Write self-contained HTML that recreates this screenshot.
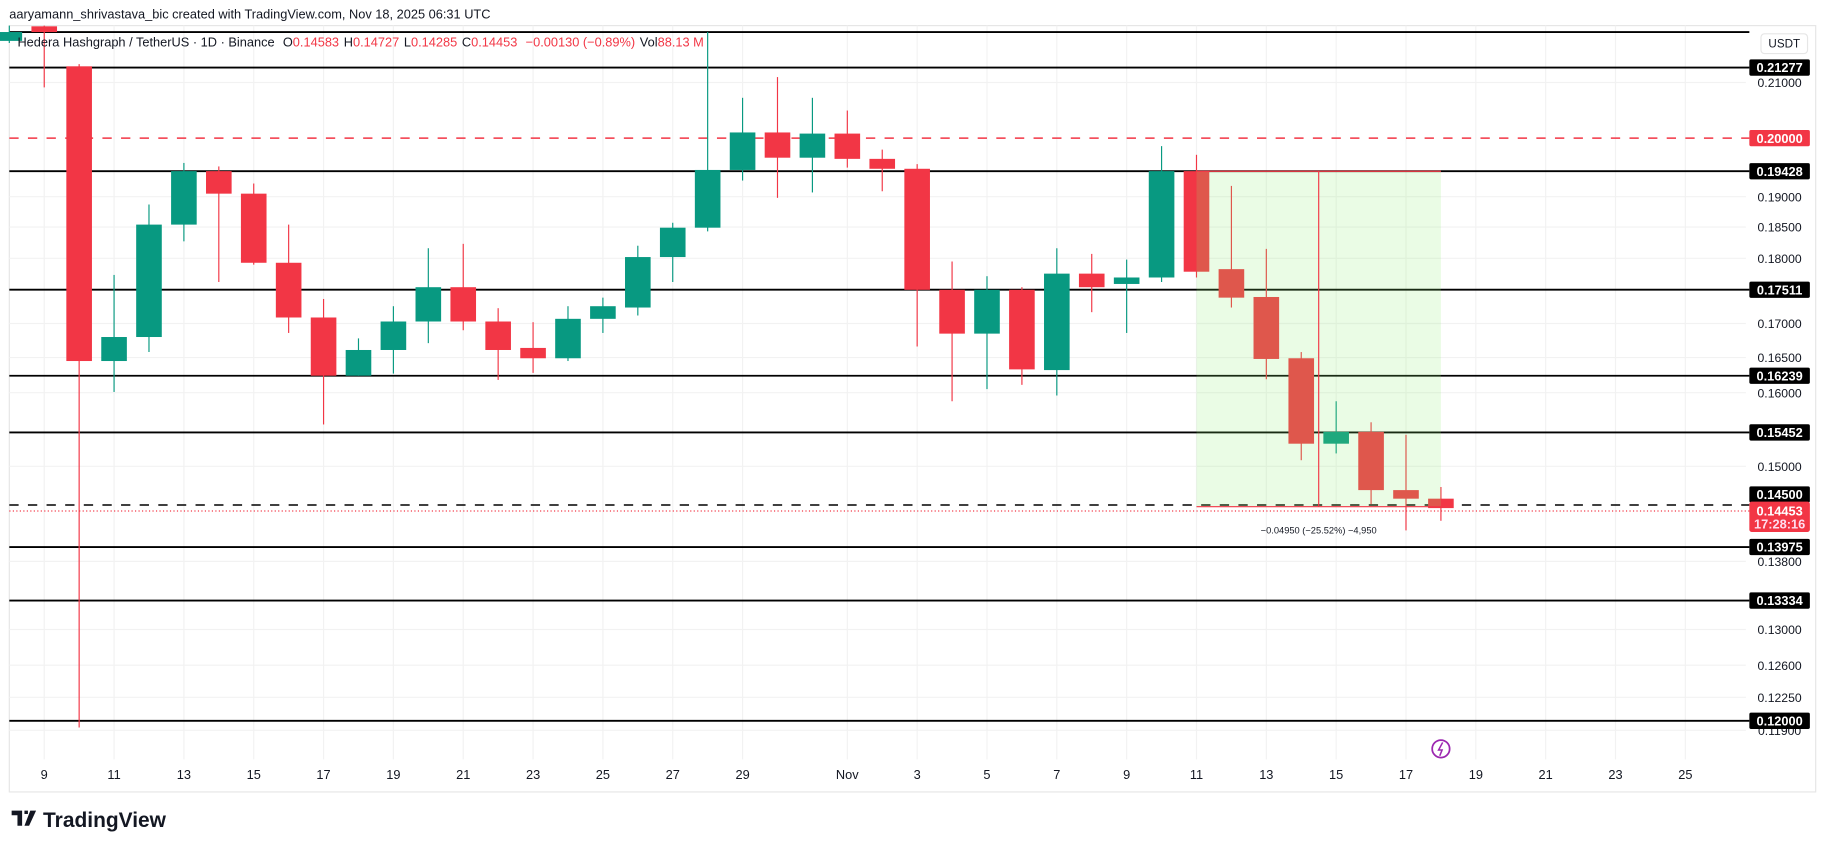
<!DOCTYPE html>
<html><head><meta charset="utf-8"><style>
html,body{margin:0;padding:0;background:#fff;width:1825px;height:849px;overflow:hidden}
svg{display:block;font-family:"Liberation Sans",sans-serif}
</style></head><body>
<svg id="c" width="1825" height="849" viewBox="0 0 1568 729" preserveAspectRatio="none" xmlns="http://www.w3.org/2000/svg">
<text x="8" y="16" font-size="11" fill="#131722">aaryamann_shrivastava_bic created with TradingView.com, Nov 18, 2025 06:31 UTC</text>
<rect x="8" y="22" width="1552" height="658" fill="#fff" stroke="#e6e6e6"/>
<g id="grid"></g>
<g id="hlines"></g>
<g id="candles"></g>
<g id="pos"></g>
<g id="axis"></g>
<g id="xaxis"></g>
<text x="15" y="40" font-size="11" fill="#131722">Hedera Hashgraph / TetherUS · 1D · Binance <tspan dx="4">O</tspan><tspan fill="#f23645">0.14583</tspan><tspan dx="4">H</tspan><tspan fill="#f23645">0.14727</tspan><tspan dx="4">L</tspan><tspan fill="#f23645">0.14285</tspan><tspan dx="4">C</tspan><tspan fill="#f23645">0.14453 </tspan><tspan dx="4" fill="#f23645">−0.00130 (−0.89%)</tspan><tspan dx="4">Vol</tspan><tspan fill="#f23645">88.13 M</tspan></text>
<g><circle cx="1238" cy="643" r="7.5" fill="none" stroke="#9c27b0" stroke-width="1.5"/><path d="M1239.5 637.5 L1236 644 L1239 644 L1237 649" fill="none" stroke="#9c27b0" stroke-width="1.3"/></g>
<g><path d="M10 696 h9 v13 h-4 v-9 h-5z M21 696 h3 v3 h-3z M26 696 h5 l-6 13 h-4z" fill="#131722"/><text x="37" y="710" font-size="18" font-weight="bold" fill="#131722">TradingView</text></g>
</svg>
<script>
const dayIdx=[-1,0,1,2,3,4,5,6,7,8,9,10,11,12,13,14,15,16,17,18,19,20,21,22,23,24,25,26,27,28,29,30,31,32,33,34,35,36,37,38,39,40];
const opens=[.2178,.2206,.2130,.1645,.1680,.1854,.1943,.1905,.1793,.1709,.1624,.1661,.1703,.1755,.1703,.1664,.1649,.1707,.1724,.1802,.1849,.1945,.2010,.1966,.2008,.1964,.1947,.1751,.1685,.1751,.1632,.1776,.1760,.1770,.1943,.1783,.1740,.1649,.1530,.1546,.1469,.1458];
const highs=[.2210,.2210,.2134,.1774,.1887,.1957,.1951,.1922,.1854,.1737,.1678,.1726,.1816,.1823,.1723,.1702,.1726,.1739,.1820,.1857,.2195,.2072,.2110,.2072,.2049,.1980,.1955,.1795,.1772,.1755,.1816,.1807,.1798,.1986,.1971,.1918,.1815,.1658,.1588,.1559,.1542,.1473];
const lows=[.2174,.2091,.1193,.1601,.1658,.1827,.1763,.1790,.1686,.1556,.1624,.1627,.1671,.1690,.1618,.1628,.1645,.1686,.1712,.1763,.1843,.1927,.1898,.1907,.1949,.1909,.1666,.1588,.1605,.1611,.1596,.1717,.1686,.1763,.1770,.1724,.1619,.1508,.1517,.1451,.1418,.1430];
const closes=[.2195,.2195,.1645,.1680,.1854,.1943,.1905,.1793,.1709,.1624,.1661,.1703,.1755,.1703,.1661,.1649,.1707,.1726,.1802,.1849,.1945,.2010,.1966,.2008,.1964,.1947,.1751,.1685,.1751,.1633,.1776,.1755,.1770,.1943,.1779,.1739,.1648,.1530,.1546,.1469,.1458,.1446];
const levels=[0.2195,0.21277,0.19428,0.17511,0.16239,0.15452,0.13975,0.13334,0.12000];
const levelLabels=["","0.21277","0.19428","0.17511","0.16239","0.15452","0.13975","0.13334","0.12000"];
const tickPrices=[0.21,0.19,0.185,0.18,0.17,0.165,0.16,0.15,0.138,0.13,0.126,0.1225,0.119];
const tickLabels=["0.21000","0.19000","0.18500","0.18000","0.17000","0.16500","0.16000","0.15000","0.13800","0.13000","0.12600","0.12250","0.11900"];
const xTickDays=[0,2,4,6,8,10,12,14,16,18,20,23,25,27,29,31,33,35,37,39,41,43,45,47];
const xTickLabels=["9","11","13","15","17","19","21","23","25","27","29","Nov","3","5","7","9","11","13","15","17","19","21","23","25"];
const targetPrice=0.2, lastPrice=0.14453, entryPrice=0.145;
const posStartDay=33, posEndDay=40, posTop=0.19428, posBottom=0.14478;

const NS="http://www.w3.org/2000/svg";
const Y=p=>58+(Math.log(0.21277)-Math.log(p))*979.4;
const X=d=>38+d*30;
function mk(parent,tag,attrs){const e=document.createElementNS(NS,tag);for(const k in attrs)e.setAttribute(k,attrs[k]);document.getElementById(parent).appendChild(e);return e;}
const GREEN="#089981",RED="#f23645";
tickPrices.forEach((p,i)=>{const l=mk('grid','line',{x1:8,x2:1500,y1:Y(p),y2:Y(p),stroke:'#f2f2f2'});

});
xTickDays.forEach((d,i)=>{const l=mk('grid','line',{x1:X(d),x2:X(d),y1:22,y2:652,stroke:'#f2f2f2'});


const t=mk('xaxis','text',{x:X(d),y:669,'font-size':11,'text-anchor':'middle',fill:'#131722'});t.textContent=xTickLabels[i];

});
dayIdx.forEach((d,i)=>{const up=closes[i]>=opens[i];const col=up?GREEN:RED;const x=X(d);
const w=mk('candles','line',{x1:x,x2:x,y1:Math.max(22,Y(highs[i])),y2:Y(lows[i]),stroke:col,'stroke-width':1});


const t=Math.min(Y(opens[i]),Y(closes[i])),b=Math.max(Y(opens[i]),Y(closes[i]));
const r=mk('candles','rect',{x:x-11,y:Math.max(20,t),width:22,height:Math.max(1,b-Math.max(20,t)),fill:col});

});
const px1=X(posStartDay),px2=X(posEndDay);
const pr=mk('pos','rect',{x:px1,y:Y(posTop),width:px2-px1,height:Y(posBottom)-Y(posTop),fill:'rgba(140,240,110,0.18)'});


const pl=mk('pos','line',{x1:px1,x2:px2,y1:Y(posTop),y2:Y(posTop),stroke:'#f23645','stroke-width':1});


const pb=mk('pos','line',{x1:px1,x2:px2,y1:Y(posBottom),y2:Y(posBottom),stroke:'#f23645','stroke-width':1});


const pv=mk('pos','line',{x1:1133,x2:1133,y1:Y(posTop),y2:Y(posBottom),stroke:'#f23645','stroke-width':1});


const pt=mk('pos','text',{x:1133,y:458,'font-size':8,'text-anchor':'middle',fill:'#131722'});pt.textContent="−0.04950 (−25.52%) −4,950";


levels.forEach((p,i)=>{const l=mk('hlines','line',{x1:8,x2:1503,y1:Y(p),y2:Y(p),stroke:'#000','stroke-width':1.6});

});
const tl=mk('hlines','line',{x1:8,x2:1503,y1:Y(targetPrice),y2:Y(targetPrice),stroke:'#f23645','stroke-width':1.3,'stroke-dasharray':'8 8'});


const el=mk('hlines','line',{x1:8,x2:1503,y1:Y(entryPrice),y2:Y(entryPrice),stroke:'#000','stroke-width':1.3,'stroke-dasharray':'8 8'});


const ll=mk('hlines','line',{x1:8,x2:1503,y1:Y(lastPrice)+2,y2:Y(lastPrice)+2,stroke:'#f23645','stroke-width':1,'stroke-dasharray':'1 2'});


const sep=mk('axis','rect',{x:1500,y:22,width:60,height:630,fill:'none'});


tickPrices.forEach((p,i)=>{const t=mk('axis','text',{x:1529,y:Y(p)+4,'font-size':10.5,'text-anchor':'middle',fill:'#131722'});t.textContent=tickLabels[i];

});
function badge(p,label,bg,name,shift){const y=Y(p)+(shift||0);const r=mk('axis','rect',{x:1503,y:y-7,width:52,height:14,fill:bg,rx:1.5});


const t=mk('axis','text',{x:1529,y:y+4,'font-size':11,'font-weight':'bold','text-anchor':'middle',fill:'#fff'});t.textContent=label;

}
levels.forEach((p,i)=>{if(levelLabels[i])badge(p,levelLabels[i],'#000','level-badge');});
badge(targetPrice,"0.20000","#f23645","target-badge");
badge(entryPrice,"0.14500","#000","entry-badge",-9);
const ly=Y(lastPrice);
const lr=mk('axis','rect',{x:1503,y:ly-6,width:52,height:26,fill:'#f23645',rx:2});


const lt=mk('axis','text',{x:1529,y:ly+6,'font-size':11,'font-weight':'bold','text-anchor':'middle',fill:'#fff'});lt.textContent="0.14453";


const ct=mk('axis','text',{x:1529,y:ly+17,'font-size':11,'font-weight':'bold','text-anchor':'middle',fill:'#fde'});ct.textContent="17:28:16";


const ub=mk('axis','rect',{x:1513,y:29,width:40,height:17,fill:'#fff',stroke:'#e6e6e6',rx:3});


const ut=mk('axis','text',{x:1533,y:41,'font-size':10,'text-anchor':'middle',fill:'#131722'});ut.textContent="USDT";


</script>
</body></html>
